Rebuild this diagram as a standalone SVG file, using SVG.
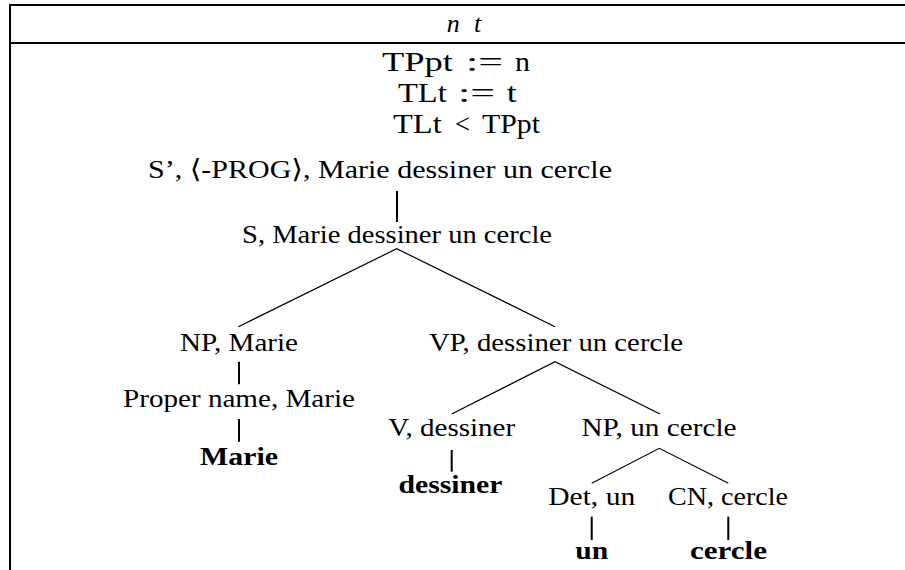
<svg xmlns="http://www.w3.org/2000/svg" width="905" height="570" viewBox="0 0 905 570">
  <style>
    text { font-family: "Liberation Serif", "DejaVu Serif", serif; font-size: 26px; fill: #000; text-anchor: middle; }
    .it { font-style: italic; }
    .b { font-weight: bold; }
    .cond { text-anchor: start; font-size: 27px; }
    .frame { stroke: #000; stroke-width: 2; fill: none; }
    .branch { stroke: #000; stroke-width: 1.2; fill: none; }
    .stem { stroke: #000; stroke-width: 2; fill: none; }
  </style>
  <rect width="905" height="570" fill="#fff"/>

  <!-- DRS box: top edge, header separator, left edge -->
  <g id="box">
    <line class="frame" x1="10" y1="5" x2="905" y2="5"/>
    <line class="frame" x1="10" y1="43" x2="905" y2="43"/>
    <line class="frame" x1="10" y1="4" x2="10" y2="570"/>
  </g>

  <!-- discourse referents -->
  <g id="universe">
    <text class="it" x="453.3" y="32">n</text>
    <text class="it" x="477.5" y="32">t</text>
  </g>

  <!-- conditions -->
  <g id="conditions">
    <text class="cond" x="382" y="71" textLength="71" lengthAdjust="spacingAndGlyphs">TPpt</text>
    <text class="cond" x="466" y="71" textLength="37" lengthAdjust="spacingAndGlyphs">:=</text>
    <text class="cond" x="515" y="71" textLength="15" lengthAdjust="spacingAndGlyphs">n</text>

    <text class="cond" x="398" y="101.5" textLength="48.7" lengthAdjust="spacingAndGlyphs">TLt</text>
    <text class="cond" x="458" y="101.5" textLength="37" lengthAdjust="spacingAndGlyphs">:=</text>
    <text class="cond" x="506.7" y="101.5" textLength="10" lengthAdjust="spacingAndGlyphs">t</text>

    <text class="cond" x="393" y="132.5" textLength="48.7" lengthAdjust="spacingAndGlyphs">TLt</text>
    <text class="cond" x="455" y="132.5" textLength="15" lengthAdjust="spacingAndGlyphs">&lt;</text>
    <text class="cond" x="482" y="132.5" textLength="58" lengthAdjust="spacingAndGlyphs">TPpt</text>
  </g>

  <!-- syntax tree nodes -->
  <g id="n-sbar"><text x="380" y="178" textLength="464" lengthAdjust="spacingAndGlyphs">S’, ⟨-PROG⟩, Marie dessiner un cercle</text></g>
  <g id="n-s"><text x="397" y="243" textLength="310" lengthAdjust="spacingAndGlyphs">S, Marie dessiner un cercle</text></g>
  <g id="n-np1"><text x="239" y="350.5" textLength="118" lengthAdjust="spacingAndGlyphs">NP, Marie</text></g>
  <g id="n-vp"><text x="556" y="350.5" textLength="254" lengthAdjust="spacingAndGlyphs">VP, dessiner un cercle</text></g>
  <g id="n-pn"><text x="239" y="407.3" textLength="232" lengthAdjust="spacingAndGlyphs">Proper name, Marie</text></g>
  <g id="n-marie"><text class="b" x="239" y="465" textLength="78" lengthAdjust="spacingAndGlyphs">Marie</text></g>
  <g id="n-v"><text x="451.7" y="435.7" textLength="127" lengthAdjust="spacingAndGlyphs">V, dessiner</text></g>
  <g id="n-np2"><text x="659" y="435.7" textLength="155" lengthAdjust="spacingAndGlyphs">NP, un cercle</text></g>
  <g id="n-dessiner"><text class="b" x="450.5" y="493.3" textLength="104" lengthAdjust="spacingAndGlyphs">dessiner</text></g>
  <g id="n-det"><text x="591.7" y="505" textLength="87" lengthAdjust="spacingAndGlyphs">Det, un</text></g>
  <g id="n-cn"><text x="728" y="505" textLength="120" lengthAdjust="spacingAndGlyphs">CN, cercle</text></g>
  <g id="n-un"><text class="b" x="591.7" y="559" textLength="33" lengthAdjust="spacingAndGlyphs">un</text></g>
  <g id="n-cercle"><text class="b" x="728.5" y="559" textLength="77" lengthAdjust="spacingAndGlyphs">cercle</text></g>

  <!-- tree edges -->
  <g id="edges">
    <line class="stem" x1="397" y1="191" x2="397" y2="222"/>
    <polyline class="branch" points="238.3,326.7 396.7,248.7 555,326.7"/>
    <line class="stem" x1="239" y1="361.7" x2="239" y2="384.3"/>
    <line class="stem" x1="239" y1="419" x2="239" y2="441.7"/>
    <polyline class="branch" points="451.7,414 555,361.7 660,414"/>
    <line class="stem" x1="451.7" y1="450" x2="451.7" y2="471.7"/>
    <polyline class="branch" points="591.7,483.3 659.3,448.3 728.3,483.3"/>
    <line class="stem" x1="591.7" y1="516.7" x2="591.7" y2="540"/>
    <line class="stem" x1="728.3" y1="516.7" x2="728.3" y2="540"/>
  </g>
</svg>
